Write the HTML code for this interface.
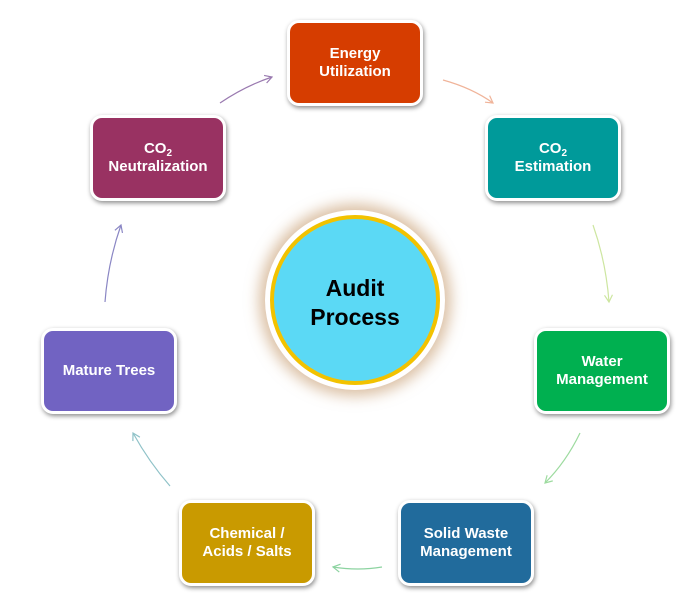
<!DOCTYPE html>
<html><head><style>
body{margin:0;width:677px;height:598px;background:#fff;position:relative;overflow:hidden;font-family:"Liberation Sans",Arial,sans-serif}
.b{position:absolute;width:130px;height:80px;border:3px solid #fff;border-radius:12px;box-shadow:1px 2px 5px rgba(0,0,0,.45);color:#fff;font-weight:bold;font-size:15px;line-height:18px;display:flex;align-items:center;justify-content:center;text-align:center}
sub{font-size:10px;vertical-align:-3px;line-height:0}
.c{position:absolute;left:265px;top:210px;width:180px;height:180px;border-radius:50%;background:#fff;box-shadow:0 0 14px 6px rgba(190,140,90,.55)}
.ci{position:absolute;left:5px;top:5px;width:162px;height:162px;border-radius:50%;border:4px solid #f2c200;background:#5bd9f5;display:flex;align-items:center;justify-content:center;text-align:center;font-weight:bold;font-size:23px;line-height:29px;color:#000}
</style></head><body>
<svg width="677" height="598" style="position:absolute;left:0;top:0">
<defs>
<marker id="m1" markerWidth="10" markerHeight="10" refX="8" refY="5" orient="auto" markerUnits="userSpaceOnUse"><path d="M1,1 L8,5 L1,9" fill="none" stroke="#f0b49a" stroke-width="1.2"/></marker>
<marker id="m2" markerWidth="10" markerHeight="10" refX="8" refY="5" orient="auto" markerUnits="userSpaceOnUse"><path d="M1,1 L8,5 L1,9" fill="none" stroke="#cde6a0" stroke-width="1.2"/></marker>
<marker id="m3" markerWidth="10" markerHeight="10" refX="8" refY="5" orient="auto" markerUnits="userSpaceOnUse"><path d="M1,1 L8,5 L1,9" fill="none" stroke="#9ddb9f" stroke-width="1.2"/></marker>
<marker id="m4" markerWidth="10" markerHeight="10" refX="8" refY="5" orient="auto" markerUnits="userSpaceOnUse"><path d="M1,1 L8,5 L1,9" fill="none" stroke="#8cd3a0" stroke-width="1.2"/></marker>
<marker id="m5" markerWidth="10" markerHeight="10" refX="8" refY="5" orient="auto" markerUnits="userSpaceOnUse"><path d="M1,1 L8,5 L1,9" fill="none" stroke="#8fc2c8" stroke-width="1.2"/></marker>
<marker id="m6" markerWidth="10" markerHeight="10" refX="8" refY="5" orient="auto" markerUnits="userSpaceOnUse"><path d="M1,1 L8,5 L1,9" fill="none" stroke="#8a86c4" stroke-width="1.2"/></marker>
<marker id="m7" markerWidth="10" markerHeight="10" refX="8" refY="5" orient="auto" markerUnits="userSpaceOnUse"><path d="M1,1 L8,5 L1,9" fill="none" stroke="#9a7ab0" stroke-width="1.2"/></marker>
</defs>
<path d="M443,80 Q472,88 493,103" fill="none" stroke="#f0b49a" stroke-width="1.2" marker-end="url(#m1)"/>
<path d="M593,225 Q606,262 609,302" fill="none" stroke="#cde6a0" stroke-width="1.2" marker-end="url(#m2)"/>
<path d="M580,433 Q566,462 545,483" fill="none" stroke="#9ddb9f" stroke-width="1.2" marker-end="url(#m3)"/>
<path d="M382,567 Q358,571 333,567" fill="none" stroke="#8cd3a0" stroke-width="1.2" marker-end="url(#m4)"/>
<path d="M170,486 Q149,462 133,433" fill="none" stroke="#8fc2c8" stroke-width="1.2" marker-end="url(#m5)"/>
<path d="M105,302 Q108,262 121,225" fill="none" stroke="#8a86c4" stroke-width="1.2" marker-end="url(#m6)"/>
<path d="M220,103 Q245,86 272,77" fill="none" stroke="#9a7ab0" stroke-width="1.2" marker-end="url(#m7)"/>
</svg>
<div class="b" style="left:287px;top:20px;background:#d63d00"><span>Energy<br>Utilization</span></div>
<div class="b" style="left:485px;top:115px;background:#009a9a"><span>CO<sub>2</sub><br>Estimation</span></div>
<div class="b" style="left:534px;top:328px;background:#00b050"><span>Water<br>Management</span></div>
<div class="b" style="left:398px;top:500px;background:#216b9c"><span>Solid Waste<br>Management</span></div>
<div class="b" style="left:179px;top:500px;background:#c99a00"><span>Chemical /<br>Acids / Salts</span></div>
<div class="b" style="left:41px;top:328px;background:#7163c2"><span>Mature Trees</span></div>
<div class="b" style="left:90px;top:115px;background:#993262"><span>CO<sub>2</sub><br>Neutralization</span></div>
<div class="c"><div class="ci"><span style="position:relative;top:3px">Audit<br>Process</span></div></div>
</body></html>
